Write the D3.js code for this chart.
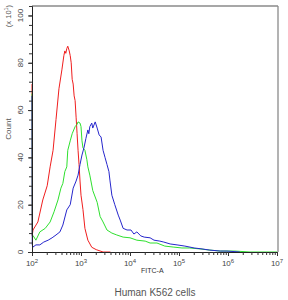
<!DOCTYPE html>
<html><head><meta charset="utf-8">
<script src="https://cdn.jsdelivr.net/npm/d3@7"></script>
<style>body{margin:0;background:#fff}svg{display:block}</style>
</head><body>
<script>
// log10(FITC-A) and Count (x10^1)
const redX = [2.00,2.005,2.02,2.12,2.22,2.31,2.37,2.43,2.49,2.55,2.61,2.65,2.67,2.69,2.71,2.73,2.76,2.78,2.80,2.82,2.84,2.86,2.88,2.90,2.92,2.94,2.96,2.98,3.00,3.04,3.08,3.14,3.22,3.31,3.45,3.60];
const redY = [71,7,9.3,12.7,22,28,36,43,56,69,77,83,85,84,86,87,85,83,80,73,71,66,64,57,50,43,37,30,24,18,10,5,2,1,0,0];
const greenX = [2.00,2.005,2.02,2.08,2.16,2.27,2.37,2.45,2.53,2.59,2.63,2.67,2.71,2.73,2.78,2.82,2.86,2.88,2.92,2.94,2.98,3.00,3.02,3.04,3.08,3.12,3.14,3.18,3.24,3.33,3.39,3.45,3.53,3.63,3.73,3.86,4.00,4.14,4.31,4.41,4.55,4.71,4.88,5.06,5.22,5.43,5.63,5.84,6.14,6.45,7.00];
const greenY = [67,7,7,5,8.5,10,12.7,17,22,27,29,34,36,43,47,50,52,53,54,55,54.5,53,47,44,43,39,36,32.5,26,21,15,12.7,9.3,8,7.2,6.3,6,5,4.6,3.8,3.8,2.5,2.1,1.7,1.7,1.3,0.8,0.4,0.4,0,0];
const blueX = [2.00,2.005,2.02,2.08,2.16,2.24,2.33,2.41,2.49,2.57,2.63,2.71,2.78,2.84,2.90,2.94,2.98,3.02,3.06,3.10,3.14,3.16,3.18,3.22,3.24,3.29,3.33,3.37,3.41,3.45,3.49,3.53,3.57,3.59,3.63,3.69,3.76,3.80,3.86,3.94,4.02,4.08,4.14,4.22,4.29,4.41,4.49,4.61,4.69,4.82,4.96,5.12,5.31,5.47,5.63,5.84,5.98,6.24];
const blueY = [66,3,2.1,3,3,4.2,5,6,7.2,8.5,11.4,17.8,20,27,30,32.5,37,41,44,48,51.6,50,53,54.5,52.4,55,52.4,49.5,48.6,43,40,37,34,30.4,24,20,15.6,13.5,10,9.3,9.3,7.6,8.5,6.8,6.3,6,5,4.6,4.2,3.4,3,2.5,1.7,1.3,0.8,0.4,0.4,0];
const xTickExp = [2,3,4,5,6,7];
const yTicks = [0,20,40,60,80,100];

const W = 288, H = 300;
const svg = d3.select("body").append("svg").attr("width", W).attr("height", H);
const x = d3.scaleLog().domain([1e2, 1e7]).range([32, 277]);
const y = d3.scaleLinear().domain([0, 104]).range([252, 6]);
const font = "Arial, 'Liberation Sans', sans-serif";

// frame (top/right gray)
svg.append("line").attr("x1", 32).attr("x2", 278).attr("y1", 6).attr("y2", 6).attr("stroke", "#8a8a8a").attr("stroke-width", 1.3);
svg.append("line").attr("x1", 278).attr("x2", 278).attr("y1", 6).attr("y2", 252).attr("stroke", "#8a8a8a").attr("stroke-width", 1.3);

// curves
const line = d3.line().x(d => x(Math.pow(10, d[0]))).y(d => y(d[1]));
const series = [[redX, redY, "#f01e1e"], [greenX, greenY, "#2ee02e"], [blueX, blueY, "#2626cc"]];
series.forEach(([xs, ys, c]) => {
  svg.append("path").datum(xs.map((v, i) => [v, ys[i]])).attr("d", line)
    .attr("fill", "none").attr("stroke", c).attr("stroke-width", 1);
});

// x axis
const minor = [];
for (let e = 2; e < 7; e++) for (let m = 2; m <= 9; m++) minor.push(m * Math.pow(10, e));
const xAxis = d3.axisBottom(x).tickValues(minor).tickSize(3).tickFormat("");
const gx = svg.append("g").attr("transform", "translate(0,252)").call(xAxis);
gx.select(".domain").attr("stroke", "#222");
gx.selectAll(".tick line").attr("stroke", "#333");
const gxMaj = svg.append("g").attr("transform", "translate(0,252)")
  .call(d3.axisBottom(x).tickValues(xTickExp.map(e => Math.pow(10, e))).tickSize(4).tickFormat(""));
gxMaj.select(".domain").remove();
gxMaj.selectAll(".tick line").attr("stroke", "#333");
xTickExp.forEach(e => {
  const t = svg.append("text").attr("x", x(Math.pow(10, e))).attr("y", 266)
    .attr("text-anchor", "middle").attr("font-family", font).attr("font-size", 8).attr("fill", "#444");
  t.append("tspan").text("10");
  t.append("tspan").attr("dy", -3).attr("font-size", 6).text(e);
});

// y axis
const yMinor = d3.range(0, 105, 4);
const gy = svg.append("g").attr("transform", "translate(32,0)")
  .call(d3.axisLeft(y).tickValues(yMinor).tickSize(3).tickFormat(""));
gy.select(".domain").attr("stroke", "#222");
gy.selectAll(".tick line").attr("stroke", "#333");
const gyMaj = svg.append("g").attr("transform", "translate(32,0)")
  .call(d3.axisLeft(y).tickValues(yTicks).tickSize(4).tickFormat(""));
gyMaj.select(".domain").remove();
gyMaj.selectAll(".tick line").attr("stroke", "#333");
yTicks.forEach(v => {
  svg.append("text").attr("transform", `translate(23,${y(v)}) rotate(-90)`)
    .attr("text-anchor", "middle").attr("font-family", font).attr("font-size", 8).attr("fill", "#444").text(v);
});

// axis titles
const ex = svg.append("text").attr("transform", "translate(11,16) rotate(-90)")
  .attr("text-anchor", "middle").attr("font-family", font).attr("font-size", 7.5).attr("fill", "#555");
ex.append("tspan").text("(x 10");
ex.append("tspan").attr("dy", -3).attr("font-size", 5.5).text("1");
ex.append("tspan").attr("dy", 3).text(")");
svg.append("text").attr("transform", "translate(11,129) rotate(-90)")
  .attr("text-anchor", "middle").attr("font-family", font).attr("font-size", 8).attr("fill", "#555").text("Count");
svg.append("text").attr("x", 141).attr("y", 273).attr("font-family", font).attr("font-size", 7).attr("fill", "#333").text("FITC-A");
svg.append("text").attr("x", 155).attr("y", 296).attr("text-anchor", "middle").attr("font-family", font).attr("font-size", 10).attr("fill", "#555").text("Human K562 cells");
</script>
</body></html>
